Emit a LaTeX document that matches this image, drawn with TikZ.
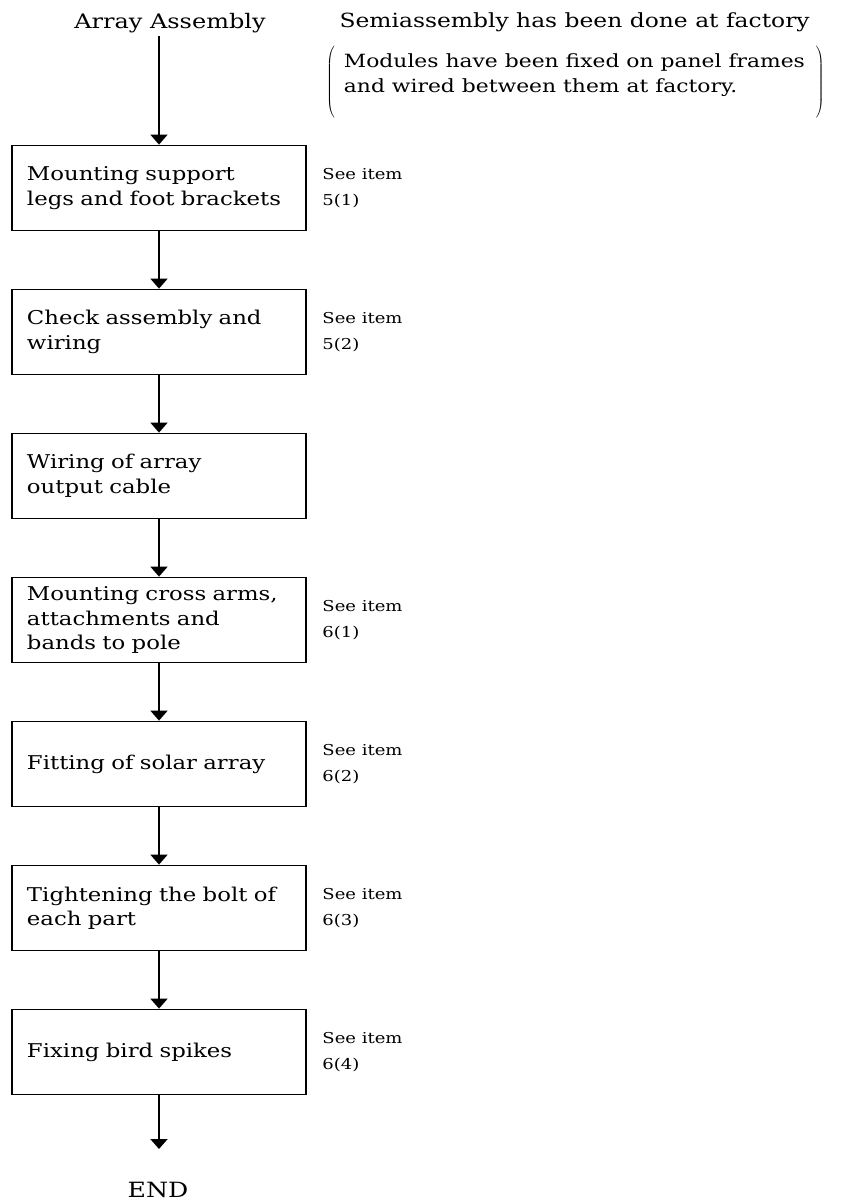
\documentclass[tikz,border=0pt]{standalone}
\usepackage{fontspec}
\setmainfont[FakeStretch=1.2]{DejaVu Serif}
\usetikzlibrary{arrows.meta,positioning}

\begin{document}
\begin{tikzpicture}[x=1pt,y=-1pt,node distance=144pt,on grid,
   stepbox/.style={draw,line width=1.8pt,minimum width=294pt,minimum height=85pt,
      text width=264pt,inner xsep=15pt,align=left,font=\fontsize{19}{24.5}\selectfont},
   note/.style={anchor=west,align=left,font=\fontsize{15}{26}\selectfont},
   flow/.style={-{Triangle[length=10pt,width=17pt]},line width=1.8pt}]
   \useasboundingbox (0,0) rectangle (852,1202);
   % heading
   \node[font=\fontsize{20}{24}\selectfont] (start) at (170,23) {Array Assembly};
   \node[anchor=west,font=\fontsize{19.5}{24}\selectfont] (semi) at (336,22) {Semiassembly has been done at factory};
   \node[anchor=west,inner sep=0pt,font=\fontsize{18.2}{25}\selectfont] (modules) at (326,82)
      {$\left(\rule[-32.5pt]{0pt}{74pt}\hspace{9pt}\raisebox{7pt}{\begin{tabular}{@{}l@{}}Modules have been fixed on panel frames\\and wired between them at factory.\end{tabular}}\hspace{11pt}\right)$};
   % steps
   \node[stepbox] (legs) at (159,188) {Mounting support\\legs and foot brackets};
   \node[stepbox] (check) [below=of legs] {Check assembly and\\wiring};
   \node[stepbox] (cable) [below=of check] {Wiring of array\\output cable};
   \node[stepbox] (arms) [below=of cable] {Mounting cross arms,\\attachments and\\bands to pole};
   \node[stepbox] (fitting) [below=of arms] {Fitting of solar array};
   \node[stepbox] (bolts) [below=of fitting] {Tightening the bolt of\\each part};
   \node[stepbox] (spikes) [below=of bolts] {Fixing bird spikes};
   \coordinate (endtip) at (159,1149);
   \node[font=\fontsize{21}{24}\selectfont] (finish) at (158,1190) {END};
   % item references
   \node[note] (see1) at ([xshift=12pt]legs.east) {See item\\5(1)};
   \node[note] (see2) at ([xshift=12pt]check.east) {See item\\5(2)};
   \node[note] (see4) at ([xshift=12pt]arms.east) {See item\\6(1)};
   \node[note] (see5) at ([xshift=12pt]fitting.east) {See item\\6(2)};
   \node[note] (see6) at ([xshift=12pt]bolts.east) {See item\\6(3)};
   \node[note] (see7) at ([xshift=12pt]spikes.east) {See item\\6(4)};
   % arrows
   \draw[flow] (start.south -| legs) -- (legs);
   \draw[flow] (legs) -- (check);
   \draw[flow] (check) -- (cable);
   \draw[flow] (cable) -- (arms);
   \draw[flow] (arms) -- (fitting);
   \draw[flow] (fitting) -- (bolts);
   \draw[flow] (bolts) -- (spikes);
   \draw[flow] (spikes) -- (endtip);
\end{tikzpicture}
\end{document}
